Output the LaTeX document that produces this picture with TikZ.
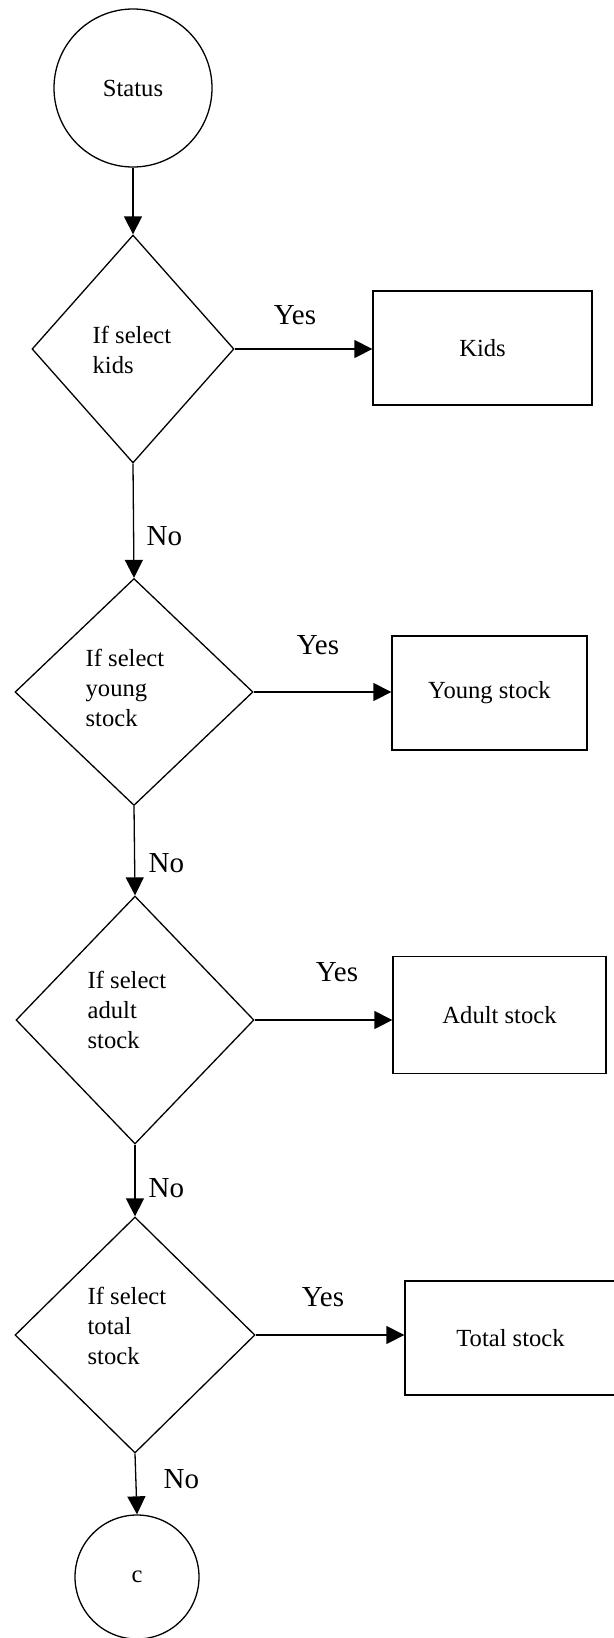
\documentclass[tikz,border=0pt]{standalone}
\usepackage{fontspec}
\setmainfont{Liberation Serif}
\usetikzlibrary{shapes.geometric,arrows.meta}
\begin{document}
\begin{tikzpicture}[x=0.5pt,y=-0.5pt,
  line width=0.65pt,
  flow/.style={-{Triangle[length=9pt,width=9pt]}},
  txt/.style={font=\fontsize{12.3}{15}\selectfont},
  lbl/.style={font=\fontsize{14.5}{17}\selectfont, inner sep=0pt},
  term/.style={draw, circle, inner sep=0pt, txt},
  decision/.style={draw, diamond, inner sep=0pt},
  proc/.style={draw, rectangle, inner sep=0pt, txt},
  dtext/.style={txt, align=left, anchor=west, inner sep=0pt}]
\useasboundingbox (0,0) rectangle (614,1638);

% start
\node[term, minimum size=79pt] (status) at (133,88) {Status};

% decision 1: kids
\node[decision, minimum width=101pt, minimum height=114pt] (d1) at (133,349) {};
\node[dtext] (d1t) at (92,350) {If select\\kids};
\node[proc, minimum width=109.5pt, minimum height=57pt] (kids) at (482.5,348) {Kids};
\node[lbl] (y1) at (295,315) {Yes};

% decision 2: young stock
\node[decision, minimum width=119pt, minimum height=113.5pt] (d2) at (134,692) {};
\node[dtext] (d2t) at (85,688) {If select\\young\\stock};
\node[proc, minimum width=97.5pt, minimum height=57pt] (young) at (489.5,693) {Young stock};
\node[lbl] (y2) at (318,645) {Yes};
\node[lbl, anchor=west] (n1) at (146,536) {No};

% decision 3: adult stock
\node[decision, minimum width=119pt, minimum height=124pt] (d3) at (135,1020) {};
\node[dtext] (d3t) at (87,1010) {If select\\adult\\stock};
\node[proc, minimum width=106.5pt, minimum height=58.5pt] (adult) at (499.5,1015) {Adult stock};
\node[lbl] (y3) at (337,972) {Yes};
\node[lbl, anchor=west] (n2) at (148,863) {No};

% decision 4: total stock
\node[decision, minimum width=120pt, minimum height=118pt] (d4) at (135,1335) {};
\node[dtext] (d4t) at (87,1326) {If select\\total\\stock};
\node[proc, minimum width=105.5pt, minimum height=57pt] (total) at (510.5,1338) {Total stock};
\node[lbl] (y4) at (323,1297) {Yes};
\node[lbl, anchor=west] (n3) at (148,1188) {No};
\node[lbl, anchor=west] (n4) at (163,1479) {No};

% connector
\node[term, minimum size=62pt] (conn) at (137,1577) {c};

% flow lines
\draw[flow] (status.south) -- (d1.north);
\draw[flow] (d1.south) -- (d2.north);
\draw[flow] (d2.south) -- (d3.north);
\draw[flow] (d3.south) -- (d4.north);
\draw[flow] (d4.south) -- (conn.north);
\draw[flow] (d1.east) -- (d1.east -| kids.west);
\draw[flow] (d2.east) -- (d2.east -| young.west);
\draw[flow] (d3.east) -- (d3.east -| adult.west);
\draw[flow] (d4.east) -- (d4.east -| total.west);
\end{tikzpicture}
\end{document}
